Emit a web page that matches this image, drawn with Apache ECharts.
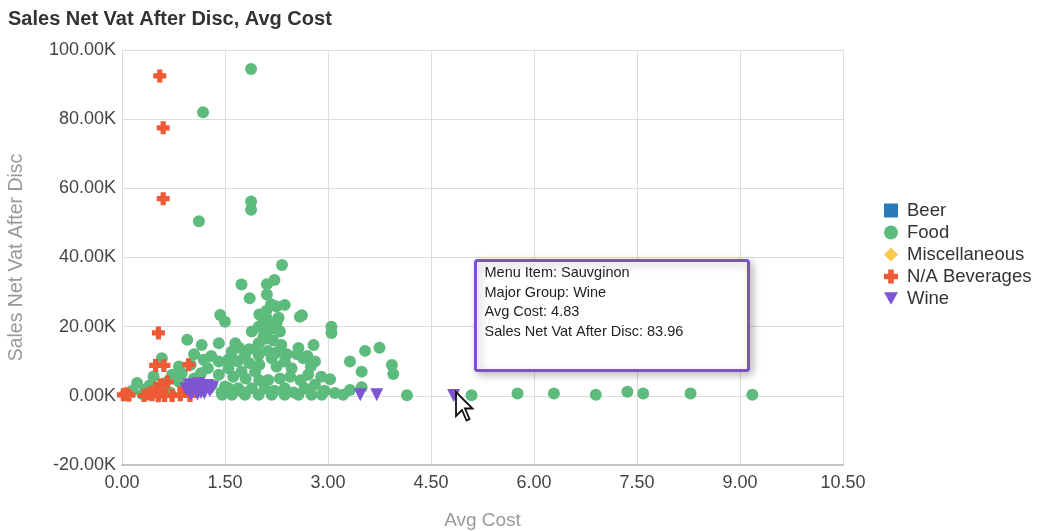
<!DOCTYPE html>
<html>
<head>
<meta charset="utf-8">
<script src="https://cdn.jsdelivr.net/npm/echarts@6/dist/echarts.min.js"></script>
<style>
  html, body { margin: 0; padding: 0; background: #fff; }
  #chart { width: 1037px; height: 531px; }
</style>
</head>
<body>
<div id="chart"></div>
<script>
// x = avg cost, y = sales net vat after disc
var beer = [];
var misc = [];
var food = [
  [1.88, 94500], [1.18, 82000], [1.88, 56200], [1.88, 53800], [1.12, 50500],
  [2.33, 37800], [1.74, 32200], [2.11, 32300], [2.22, 33500], [1.86, 28200],
  [2.11, 29300], [2.25, 25800], [2.37, 26300], [2.59, 22900], [2.62, 23300],
  [1.43, 23400], [1.50, 21400], [2.11, 22400], [2.28, 22600], [3.05, 20000],
  [3.05, 18200], [1.89, 18600], [1.99, 20000], [2.06, 17100], [2.30, 18600],
  [1.65, 15200], [1.99, 15200], [2.32, 14700], [2.57, 13800], [2.79, 14700],
  [1.60, 12800], [1.79, 11800], [1.99, 11800], [2.18, 10900], [2.37, 9900],
  [2.64, 10900], [2.81, 9900], [1.74, 7000], [1.94, 7000], [2.47, 8000],
  [2.71, 6100], [3.03, 4800], [2.13, 4600], [1.50, 2700], [1.69, 2200],
  [1.89, 2200], [2.08, 2200], [2.37, 2200], [2.66, 2200], [2.81, 3200],
  [1.60, 300], [1.79, 300], [1.99, 300], [2.18, 300], [2.37, 300],
  [2.57, 300], [2.76, 300], [2.91, 300],
  [2.05, 21000], [2.15, 20500], [2.20, 19500], [2.00, 23500], [2.10, 24500],
  [2.17, 26500], [2.13, 19000], [2.25, 21000], [2.08, 16500], [2.20, 16000],
  [1.95, 13500], [2.12, 13000], [2.25, 12500], [2.40, 12000], [1.70, 14000],
  [1.85, 13500], [1.68, 10000], [1.85, 9500], [2.00, 9000], [2.25, 8500],
  [2.55, 12000], [2.70, 11500], [2.45, 5500], [2.60, 4500], [1.80, 5000],
  [2.00, 4500], [2.30, 5000], [2.90, 5500], [2.75, 8500], [1.55, 8000],
  [1.62, 5500], [2.50, 1000], [2.22, 1500], [1.75, 1200], [2.95, 1500],
  [1.45, 1000],
  [3.32, 9900], [3.54, 13000], [3.75, 13900], [3.93, 8900], [3.95, 6300],
  [3.49, 7000], [3.32, 1700], [3.49, 2500], [3.22, 300], [3.10, 800],
  [4.15, 200],
  [5.09, 200], [5.76, 700], [6.29, 700], [6.90, 300], [7.36, 1200],
  [7.59, 700], [8.28, 700], [9.18, 300],
  [0.95, 16200], [1.16, 14700], [1.41, 15200], [1.19, 10400], [1.41, 9900],
  [0.58, 10900], [0.83, 8500], [0.22, 3700], [0.46, 5600], [0.73, 6100],
  [0.87, 6500], [0.34, 1800], [0.15, 1500], [0.63, 3700], [0.83, 4100],
  [1.41, 6100], [1.31, 3200], [1.46, 300], [1.55, 2200], [0.30, 500],
  [0.45, 1500], [0.70, 1000], [0.90, 2000], [1.05, 5000], [1.15, 6500],
  [1.25, 8000], [1.00, 9000], [0.40, 3000], [1.30, 11500], [1.55, 10500],
  [1.05, 12000]
];
var naBeverages = [
  [0.55, 92500], [0.60, 77500], [0.60, 57000], [0.53, 18200], [0.49, 8800],
  [0.61, 8800], [0.97, 9000], [0.02, 300], [0.06, 600], [0.10, 200],
  [0.32, 100], [0.44, 300], [0.49, 2200], [0.56, 3200], [0.58, 1200],
  [0.53, 0], [0.66, 4000], [0.73, 100], [0.99, 100], [0.90, 2000],
  [0.38, 500], [0.62, 100], [0.85, 300]
];
var wine = [
  [0.93, 2000], [0.98, 3200], [1.02, 1000], [1.06, 2800], [1.10, 500],
  [1.12, 3500], [1.17, 1800], [1.20, 800], [1.24, 3000], [1.28, 1500],
  [1.32, 2500], [1.00, 500], [1.15, 1000], [1.08, 1800], [1.22, 2200],
  [3.47, 300], [3.71, 300], [4.83, 84]
];
var tipLines = [
  'Menu Item: Sauvginon',
  'Major Group: Wine',
  'Avg Cost: 4.83',
  'Sales Net Vat After Disc: 83.96'
];

var crossPath = 'path://M3,0 H7 V3 H10 V7 H7 V10 H3 V7 H0 V3 H3 Z';
var triDownPath = 'path://M0,0 L10,0 L5,9 Z';
var font = 'Liberation Sans';

var chart = echarts.init(document.getElementById('chart'));

function series(name, data, symbol, color, size) {
  return {
    name: name,
    type: 'scatter',
    data: data,
    symbol: symbol,
    symbolSize: size,
    itemStyle: { color: color, opacity: 1 },
    emphasis: { disabled: true }
  };
}

var option = {
  animation: false,
  title: {
    text: 'Sales Net Vat After Disc, Avg Cost',
    left: 3,
    top: 4,
    textStyle: { fontFamily: font, fontSize: 20, fontWeight: 'bold', color: '#333' }
  },
  legend: {
    orient: 'vertical',
    left: 879,
    top: 196,
    itemWidth: 14,
    itemHeight: 14,
    itemGap: 3,
    textStyle: { fontFamily: font, fontSize: 18.5, color: '#333', lineHeight: 15, padding: [0, 0, 0, 4] },
    data: ['Beer', 'Food', 'Miscellaneous', 'N/A Beverages', 'Wine']
  },
  grid: { left: 122, right: 194, top: 50, bottom: 66, outerBoundsMode: 'none' },
  xAxis: {
    type: 'value',
    min: 0,
    max: 10.5,
    interval: 1.5,
    name: 'Avg Cost',
    nameLocation: 'middle',
    nameGap: 46,
    nameTextStyle: { fontFamily: font, fontSize: 19, color: '#999' },
    axisLine: { show: true, onZero: false, lineStyle: { color: '#c4c4c4', width: 2 } },
    axisTick: { show: false },
    axisLabel: {
      fontFamily: font, fontSize: 18, color: '#444', margin: 9,
      formatter: function (v) { return v.toFixed(2); }
    },
    splitLine: { lineStyle: { color: '#dcdcdc' } }
  },
  yAxis: {
    type: 'value',
    min: -20000,
    max: 100000,
    interval: 20000,
    name: 'Sales Net Vat After Disc',
    nameLocation: 'middle',
    nameGap: 95,
    nameTextStyle: { fontFamily: font, fontSize: 19.5, color: '#999' },
    axisLine: { show: false },
    axisTick: { show: false },
    axisLabel: {
      fontFamily: font, fontSize: 18, color: '#444', margin: 6,
      formatter: function (v) { return (v / 1000).toFixed(2) + 'K'; }
    },
    splitLine: { lineStyle: { color: '#dcdcdc' } }
  },
  series: [
    series('Beer', beer, 'rect', '#2a7ab9', 12),
    series('Food', food, 'circle', '#5dbb7d', 12),
    series('Miscellaneous', misc, 'diamond', '#f8c94a', 13),
    series('N/A Beverages', naBeverages, crossPath, '#ee5a36', 13),
    series('Wine', wine, triDownPath, '#7e55d3', 13)
  ],
  graphic: [
    {
      type: 'group',
      left: 474,
      top: 259,
      z: 100,
      children: [
        {
          type: 'rect',
          z: 100,
          shape: { x: 0, y: 0, width: 273, height: 110, r: 2 },
          style: {
            fill: '#fff', stroke: '#7b52c8', lineWidth: 3,
            shadowBlur: 8, shadowOffsetX: 3, shadowOffsetY: 3, shadowColor: 'rgba(0,0,0,0.25)'
          }
        },
        {
          type: 'text',
          z: 101,
          x: 9,
          y: 3,
          style: {
            text: tipLines.join('\n'),
            font: '14.5px "Liberation Sans"',
            lineHeight: 19.5,
            fill: '#222'
          }
        }
      ]
    },
    {
      type: 'polygon',
      z: 102,
      x: 456,
      y: 392,
      scaleX: 1.5,
      scaleY: 1.5,
      shape: { points: [[0, 0], [0, 16], [4, 12], [7, 19], [9, 18], [6, 11], [11, 11]] },
      style: { fill: '#fff', stroke: '#111', lineWidth: 1.2 }
    }
  ]
};

chart.setOption(option);
</script>
</body>
</html>
